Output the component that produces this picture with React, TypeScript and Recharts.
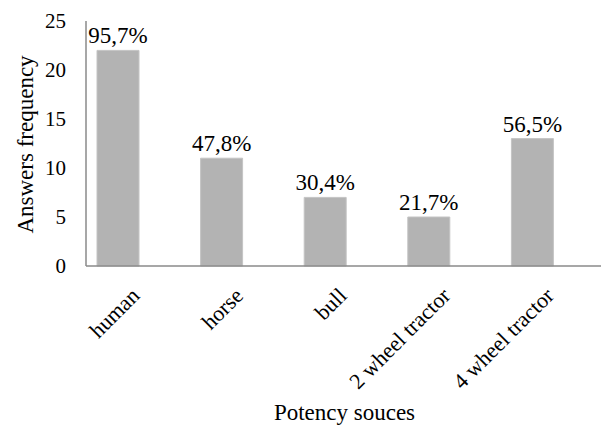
import React from 'react';
import { BarChart, Bar, XAxis, YAxis, LabelList } from 'recharts';

const categories = ['human', 'horse', 'bull', '2 wheel tractor', '4 wheel tractor'];
const frequencies = [22, 11, 7, 5, 13];
const percentLabels = ['95,7%', '47,8%', '30,4%', '21,7%', '56,5%'];
const yTicks = [0, 5, 10, 15, 20, 25];

const data = categories.map((c, i) => ({ name: c, value: frequencies[i], pct: percentLabels[i] }));

const FONT = '"Liberation Serif", "Times New Roman", serif';

const XTick = (props: any) => {
  const { x, y, payload } = props;
  const ax = x + 23;
  const ay = y + 31;
  return (
    <text x={ax} y={ay} transform={`rotate(-45, ${ax}, ${ay})`} textAnchor="end" fontFamily={FONT} fontSize={22} fill="#000">
      {payload.value}
    </text>
  );
};

const XTitle = (props: any) => {
  const { viewBox } = props;
  return (
    <text x={viewBox.x + viewBox.width / 2 + 1} y={viewBox.y + 154} textAnchor="middle" fontFamily={FONT} fontSize={23} fill="#000">
      Potency souces
    </text>
  );
};

const YTitle = (props: any) => {
  const { viewBox } = props;
  const x = viewBox.x + 33;
  const y = viewBox.y + viewBox.height / 2 + 1;
  return (
    <text x={x} y={y} transform={`rotate(-90, ${x}, ${y})`} textAnchor="middle" fontFamily={FONT} fontSize={23} fill="#000">
      Answers frequency
    </text>
  );
};

export default function App() {
  return (
    <div style={{ position: 'absolute', left: 0, top: 0, background: '#fff' }}>
      <BarChart width={601} height={430} data={data} margin={{ top: 21, right: 0, bottom: 0, left: 0 }}>
        <XAxis
          dataKey="name"
          height={164}
          padding={{ left: -20, right: 17 }}
          axisLine={{ stroke: '#8a8a8a', strokeWidth: 1.5 }}
          tickLine={false}
          tickSize={0}
          tickMargin={0}
          interval={0}
          tick={<XTick />}
          label={{ content: <XTitle /> } as any}
        />
        <YAxis
          width={86}
          domain={[0, 25]}
          ticks={yTicks}
          axisLine={{ stroke: '#8a8a8a', strokeWidth: 1.5 }}
          tickLine={false}
          tickSize={0}
          tickMargin={20}
          tick={{ fontFamily: FONT, fontSize: 21, fill: '#000' }}
          label={{ content: <YTitle /> } as any}
        />
        <Bar dataKey="value" fill="#b3b3b3" stroke="#c4c4c4" strokeWidth={1} barSize={42} isAnimationActive={false}>
          <LabelList dataKey="pct" position="top" offset={7} style={{ fontFamily: FONT, fontSize: 23, fill: '#000' }} />
        </Bar>
      </BarChart>
    </div>
  );
}
